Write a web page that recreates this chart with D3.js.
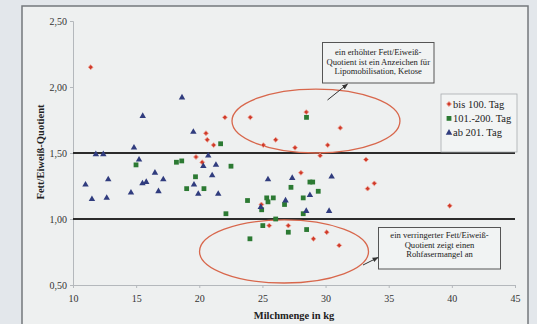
<!DOCTYPE html>
<html>
<head>
<meta charset="utf-8">
<script src="https://cdn.jsdelivr.net/npm/d3@7"></script>
<style>
  body { margin: 0; background: #e3e7eb; }
  svg { display: block; font-family: "Liberation Serif", "Times New Roman", serif; }
</style>
</head>
<body>
<div id="chart"></div>
<script>
//data: [Milchmenge, Fett/Eiweiss-Quotient]
const bis100 = [[11.40, 2.15], [22.03, 1.77], [24.04, 1.77], [28.47, 1.81], [31.16, 1.69], [20.53, 1.65],
    [20.63, 1.60], [21.14, 1.56], [25.07, 1.56], [26.05, 1.60], [27.58, 1.54], [30.17, 1.56], [29.57, 1.48],
    [19.74, 1.47], [20.23, 1.43], [33.20, 1.45], [33.33, 1.23], [33.86, 1.27], [39.83, 1.10], [24.92, 1.11],
    [28.05, 1.35], [25.54, 0.95], [27.05, 0.95], [29.04, 0.85], [30.09, 0.90], [31.08, 0.80]];

const tag101_200 = [[28.49, 1.77], [21.69, 1.57], [14.99, 1.41], [18.19, 1.43], [18.61, 1.44], [22.51, 1.40],
    [19.70, 1.32], [19.00, 1.23], [20.37, 1.23], [23.82, 1.14], [22.11, 1.04], [24.94, 1.07], [25.34, 1.16],
    [25.44, 1.13], [25.86, 1.16], [26.75, 1.11], [27.26, 1.24], [28.76, 1.28], [28.98, 1.28], [28.23, 1.16],
    [29.42, 1.21], [28.23, 1.04], [26.05, 1.00], [25.03, 0.95], [24.01, 0.85], [27.05, 0.90], [28.50, 0.92]];

const ab201 = [[15.52, 1.78], [14.83, 1.54], [11.81, 1.49], [12.40, 1.49], [15.23, 1.45], [16.49, 1.35],
    [17.15, 1.30], [12.79, 1.30], [10.99, 1.26], [15.80, 1.28], [15.50, 1.27], [14.59, 1.20], [16.77, 1.21],
    [12.67, 1.16], [11.50, 1.15], [18.63, 1.92], [19.53, 1.66], [20.71, 1.48], [20.32, 1.40], [21.32, 1.41],
    [21.02, 1.33], [19.58, 1.26], [19.92, 1.19], [21.50, 1.19], [25.44, 1.30], [27.36, 1.31], [30.48, 1.32],
    [28.76, 1.18], [26.83, 1.14], [24.87, 1.09], [28.47, 1.06], [30.28, 1.06]];

const xTicks = [10, 15, 20, 25, 30, 35, 40, 45];
const yTicks = [0.5, 1.0, 1.5, 2.0, 2.5];
const refLines = [1.0, 1.5];
const seriesNames = ["bis 100. Tag", "101.-200. Tag", "ab 201. Tag"];
const noteHigh = ["ein erhöhter Fett/Eiweiß-", "Quotient ist ein Anzeichen für", "Lipomobilisation, Ketose"];
const noteLow = ["ein verringerter Fett/Eiweiß-", "Quotient zeigt einen", "Rohfasermangel an"];

//set up SVG dimensions/margins
const W = 537, H = 324;
const margin = { top: 21, right: 22, bottom: 39, left: 73 },
    width = W - margin.left - margin.right,
    height = H - margin.top - margin.bottom;

const root = d3.select("#chart").append("svg")
    .attr("width", W)
    .attr("height", H);

//arrow head
root.append("defs").append("marker")
    .attr("id", "arrow")
    .attr("viewBox", "0 0 10 10")
    .attr("refX", 9).attr("refY", 5)
    .attr("markerWidth", 6).attr("markerHeight", 6)
    .attr("orient", "auto")
    .append("path")
    .attr("d", "M0,1 L10,5 L0,9 Z")
    .attr("fill", "#333");

//chart frame
root.append("rect")
    .attr("x", 22).attr("y", 6)
    .attr("width", 506).attr("height", 330)
    .attr("fill", "#eef0f0")
    .attr("stroke", "#74787c")
    .attr("stroke-width", 1.5);

const svg = root.append("g")
    .attr("transform", `translate(${margin.left},${margin.top})`);

const x = d3.scaleLinear().domain([10, 45]).range([0, width]);
const y = d3.scaleLinear().domain([0.5, 2.5]).range([height, 0]);

//axes
const xAxis = svg.append("g")
    .attr("transform", `translate(0,${height})`)
    .call(d3.axisBottom(x).tickValues(xTicks).tickSize(3).tickPadding(7));

const yAxis = svg.append("g")
    .call(d3.axisLeft(y).tickValues(yTicks).tickSize(3).tickPadding(3)
        .tickFormat(d => d3.format(".2f")(d).replace(".", ",")));

[xAxis, yAxis].forEach(a => {
    a.select(".domain").attr("stroke", "#b4b8bc");
    a.selectAll(".tick line").attr("stroke", "#b4b8bc");
    a.selectAll("text")
        .attr("fill", "#333")
        .style("font-size", "10px")
        .style("font-family", "Liberation Serif, serif");
});

//reference lines
svg.selectAll(".ref")
    .data(refLines)
    .enter().append("line")
    .attr("x1", x(10)).attr("x2", x(45))
    .attr("y1", d => y(d)).attr("y2", d => y(d))
    .attr("stroke", "#2b2b2b")
    .attr("stroke-width", 2);

//axis titles
svg.append("text")
    .attr("x", width / 2).attr("y", height + 34)
    .attr("text-anchor", "middle")
    .attr("font-weight", "bold")
    .attr("font-size", "10.5px")
    .attr("fill", "#222")
    .text("Milchmenge in kg");

svg.append("text")
    .attr("transform", `translate(${43.5 - margin.left},${height / 2 - 1}) rotate(-90)`)
    .attr("text-anchor", "middle")
    .attr("font-weight", "bold")
    .attr("font-size", "10.5px")
    .attr("fill", "#222")
    .text("Fett/Eiweiß-Quotient");

//ellipses
const ellipses = [
    { cx: 29.24, cy: 1.742, rx: 6.65, ry: 0.242 },
    { cx: 26.71, cy: 0.754, rx: 6.69, ry: 0.239 }
];
svg.selectAll(".ell")
    .data(ellipses)
    .enter().append("ellipse")
    .attr("cx", d => x(d.cx)).attr("cy", d => y(d.cy))
    .attr("rx", d => x(10 + d.rx) - x(10))
    .attr("ry", d => y(0.5) - y(0.5 + d.ry))
    .attr("fill", "none")
    .attr("stroke", "#d8674c")
    .attr("stroke-width", 1.3);

//series markers
const series = [
    { data: bis100, shape: d3.symbolSquare, size: 12, rot: 45, fill: "#cf3a2a", stroke: "#efa597", sw: 0.8 },
    { data: tag101_200, shape: d3.symbolSquare, size: 23, rot: 0, fill: "#2c7a33", stroke: "none", sw: 0 },
    { data: ab201, shape: d3.symbolTriangle, size: 18, rot: 0, fill: "#303c7e", stroke: "none", sw: 0 }
];

series.forEach(s => {
    svg.append("g")
        .selectAll("path")
        .data(s.data)
        .enter().append("path")
        .attr("d", d3.symbol().type(s.shape).size(s.size))
        .attr("transform", d => `translate(${x(d[0])},${y(d[1])}) rotate(${s.rot})`)
        .attr("fill", s.fill)
        .attr("stroke", s.stroke)
        .attr("stroke-width", s.sw);
});

//legend
const legend = root.append("g").attr("transform", "translate(441,94)");
legend.append("rect")
    .attr("width", 76).attr("height", 58)
    .attr("fill", "#f2f4f4")
    .attr("stroke", "#a8acb0")
    .attr("stroke-width", 0.8);

seriesNames.forEach((name, i) => {
    const s = series[i];
    const row = legend.append("g").attr("transform", `translate(8,${10 + i * 14.4})`);
    row.append("path")
        .attr("d", d3.symbol().type(s.shape).size(s.size))
        .attr("transform", `rotate(${s.rot})`)
        .attr("fill", s.fill)
        .attr("stroke", s.stroke)
        .attr("stroke-width", s.sw);
    row.append("text")
        .attr("x", 4).attr("y", 3.6)
        .attr("font-size", "10.5px")
        .attr("fill", "#222")
        .text(name);
});

//annotation boxes
function noteBox(lines, bx, by, bw, bh, firstBase, step) {
    root.append("rect")
        .attr("x", bx).attr("y", by)
        .attr("width", bw).attr("height", bh)
        .attr("fill", "#f1f3f3")
        .attr("stroke", "#555")
        .attr("stroke-width", 1);
    root.append("text")
        .attr("text-anchor", "middle")
        .attr("font-size", "8.6px")
        .attr("fill", "#222")
        .selectAll("tspan")
        .data(lines)
        .enter().append("tspan")
        .attr("x", bx + bw / 2)
        .attr("y", (d, i) => firstBase + i * step)
        .text(d => d);
}
noteBox(noteHigh, 322.5, 42.5, 111.5, 40.5, 54.8, 9.7);
noteBox(noteLow, 378.5, 227.5, 122, 41.5, 237.8, 9.7);

//arrows from ellipses to boxes
root.append("line")
    .attr("x1", 327.5).attr("y1", 100)
    .attr("x2", 347.5).attr("y2", 84)
    .attr("stroke", "#333").attr("stroke-width", 1)
    .attr("marker-end", "url(#arrow)");
root.append("line")
    .attr("x1", 363).attr("y1", 265)
    .attr("x2", 378).attr("y2", 257.5)
    .attr("stroke", "#333").attr("stroke-width", 1)
    .attr("marker-end", "url(#arrow)");
</script>
</body>
</html>
